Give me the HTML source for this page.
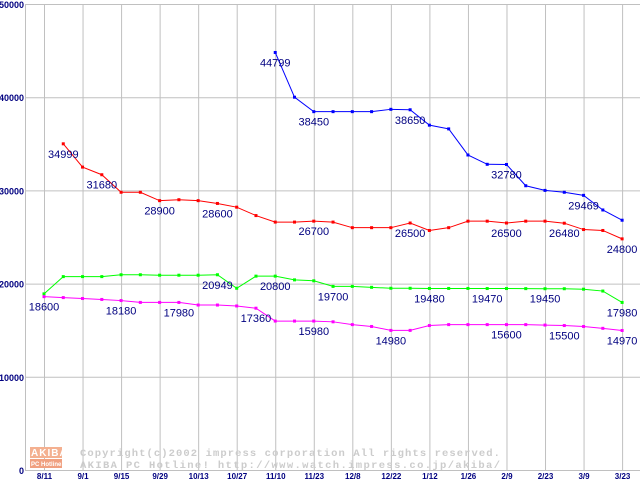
<!DOCTYPE html>
<html><head><meta charset="utf-8"><style>
body{margin:0;background:#fff;width:640px;height:480px;overflow:hidden}
svg{display:block}
</style></head><body>
<svg id="chart" width="640" height="480" xmlns="http://www.w3.org/2000/svg">
<g id="wm">
<rect x="30" y="447" width="32" height="11" fill="#f4b090"/>
<text x="31" y="456" font-family="Liberation Sans, sans-serif" font-size="10" font-weight="bold" fill="#fff" letter-spacing="1">AKIBA</text>
<rect x="30" y="459" width="32" height="9" fill="#f0a080"/>
<text x="31" y="466" font-family="Liberation Sans, sans-serif" font-size="6" font-weight="bold" fill="#fff">PC Hotline!</text>
<text x="80" y="456" textLength="420" lengthAdjust="spacing" font-family="Liberation Mono, monospace" font-size="10.5" font-weight="bold" fill="#cccccc">Copyright(c)2002 impress corporation All rights reserved.</text>
<text x="80" y="468" textLength="420" lengthAdjust="spacing" font-family="Liberation Mono, monospace" font-size="10.5" font-weight="bold" fill="#cccccc">AKIBA PC Hotline!  http://www.watch.impress.co.jp/akiba/</text>
</g>
</svg>
<script>
const xLabels=["8/11","9/1","9/15","9/29","10/13","10/27","11/10","11/23","12/8","12/22","1/12","1/26","2/9","2/23","3/9","3/23"];
const yTicks=[0,10000,20000,30000,40000,50000];
const redVals=[null,34999,32500,31680,29800,29800,28900,29000,28900,28600,28200,27300,26600,26600,26700,26600,26000,26000,26000,26500,25700,26000,26700,26700,26500,26700,26700,26480,25800,25700,24800];
const blueVals=[null,null,null,null,null,null,null,null,null,null,null,null,44799,40000,38450,38450,38450,38450,38700,38650,37000,36600,33800,32800,32780,30500,30000,29800,29469,27900,26800];
const greenVals=[18900,20750,20750,20750,20950,20950,20900,20900,20900,20949,19500,20800,20800,20400,20300,19700,19700,19600,19500,19500,19480,19480,19480,19470,19470,19460,19450,19450,19400,19200,17980];
const magentaVals=[18600,18500,18400,18300,18180,17980,17980,17980,17700,17700,17600,17360,15980,15980,15980,15900,15600,15400,14980,14980,15500,15600,15600,15600,15600,15600,15550,15500,15400,15200,14970];
const redLabels=[[1,"34999"],[3,"31680"],[6,"28900"],[9,"28600"],[14,"26700"],[19,"26500"],[24,"26500"],[27,"26480"],[30,"24800"]];
const blueLabels=[[12,"44799"],[14,"38450"],[19,"38650"],[24,"32780"],[28,"29469"]];
const greenLabels=[[9,"20949"],[12,"20800"],[15,"19700"],[20,"19480"],[23,"19470"],[26,"19450"],[30,"17980"]];
const magentaLabels=[[0,"18600"],[4,"18180"],[7,"17980"],[11,"17360"],[14,"15980"],[18,"14980"],[24,"15600"],[27,"15500"],[30,"14970"]];
const NS="http://www.w3.org/2000/svg";
const svg=document.getElementById('chart');
const x0=44,step=19.27,yBase=470,yTop=4,yMax=50000;
function X(i){return x0+i*step;}
function Y(v){return yBase-(v/yMax)*(yBase-yTop);}
function mk(t,a,p){const e=document.createElementNS(NS,t);for(const k in a)e.setAttribute(k,a[k]);(p||svg).insertBefore(e,document.getElementById('wm'));return e;}
yTicks.forEach(v=>{
 const l=mk('line',{x1:25,x2:640,y1:Y(v)+0.5,y2:Y(v)+0.5,stroke:'#c0c0c0','stroke-width':1});
 
 
 const t=mk('text',{x:24,y:Y(v)+4,'text-anchor':'end','font-family':'Liberation Sans, sans-serif','font-size':9,'font-weight':'bold',fill:'#000080'});
 t.textContent=String(v);
 
 
});
xLabels.forEach((s,k)=>{
 const x=X(k*2)+0.5;
 const l=mk('line',{x1:x,x2:x,y1:yTop,y2:yBase,stroke:'#c0c0c0','stroke-width':1});
 
 
 const t=mk('text',{x:x,y:479,'text-anchor':'middle','font-family':'Liberation Sans, sans-serif','font-size':8,'font-weight':'bold',fill:'#000080'});
 t.textContent=s;
 
 
});
const ax=mk('line',{x1:25.5,x2:25.5,y1:yTop,y2:yBase,stroke:'#c0c0c0'});


const bx=mk('line',{x1:25,x2:640,y1:yBase+0.5,y2:yBase+0.5,stroke:'#c0c0c0'});


function series(vals,labels,color,name){
 const pts=[];vals.forEach((v,i)=>{if(v!=null)pts.push([X(i),Y(v)]);});
 const p=mk('polyline',{points:pts.map(q=>q.join(',')).join(' '),fill:'none',stroke:color,'stroke-width':1});
 
 
 pts.forEach(q=>{
  const r=mk('rect',{x:q[0]-1.5,y:q[1]-1.5,width:3,height:3,fill:color});
  
  
 });
 labels.forEach(([i,s])=>{
  const t=mk('text',{x:X(i),y:Y(vals[i])+14,'text-anchor':'middle','font-family':'Liberation Sans, sans-serif','font-size':11,fill:'#000080'});
  t.textContent=s;
  
  
 });
}
series(redVals,redLabels,'#ff0000','red-series');
series(blueVals,blueLabels,'#0000ff','blue-series');
series(greenVals,greenLabels,'#00ff00','green-series');
series(magentaVals,magentaLabels,'#ff00ff','magenta-series');
</script>
</body></html>
